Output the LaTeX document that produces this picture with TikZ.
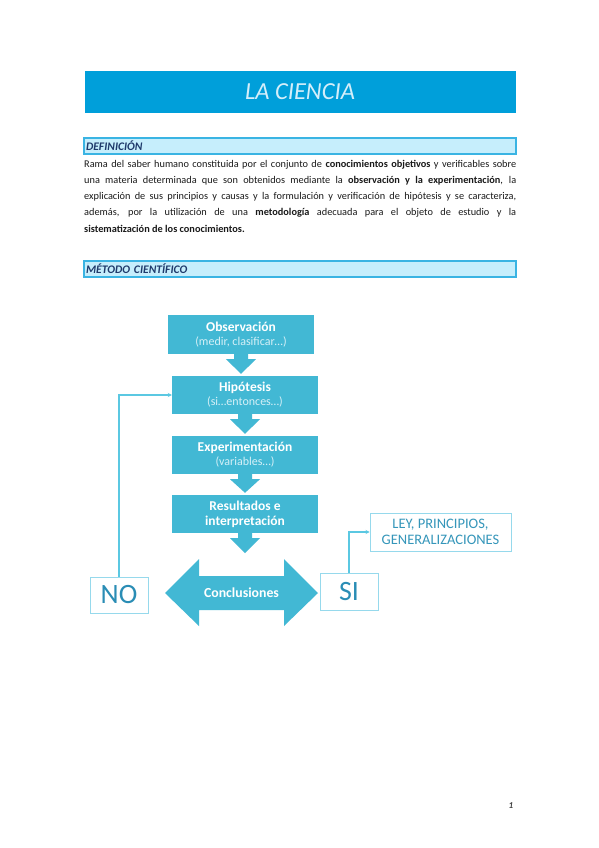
\documentclass[tikz,border=0pt]{standalone}
\usepackage{fontspec}
\setmainfont{Carlito}
\usetikzlibrary{calc,arrows.meta}
\definecolor{titlefill}{HTML}{009FDA}
\definecolor{titletext}{HTML}{D4EEFA}
\definecolor{headfill}{HTML}{C6EEFC}
\definecolor{headdraw}{HTML}{3AB4E3}
\definecolor{headtext}{HTML}{1F3A6B}
\definecolor{flowfill}{HTML}{42B8D4}
\definecolor{subtext}{HTML}{D6F0F7}
\definecolor{connline}{HTML}{5BC8E2}
\definecolor{outbox}{HTML}{96D9EC}
\definecolor{outtext}{HTML}{2A8DB5}
\definecolor{leytext}{HTML}{3596BA}
\definecolor{bodytext}{HTML}{1A1A1A}
\newcommand\blockarrow[2]{%
  \coordinate (ba-tip) at (#1.south |- #2.north);
  \fill[flowfill] ($(#1.south)+(-7,-0.5)$) -- ($(#1.south)+(-7,5)$) -- ($(#1.south)+(-15,5)$)
    -- ($(ba-tip)+(0,-2)$) -- ($(#1.south)+(15,5)$) -- ($(#1.south)+(7,5)$)
    -- ($(#1.south)+(7,-0.5)$) -- cycle;}
\begin{document}
\begin{tikzpicture}[x=1pt,y=-1pt,
  titlebar/.style={fill=titlefill, minimum width=431, minimum height=42, inner sep=0,
    text=titletext, font=\itshape\fontsize{24.5}{26}\selectfont},
  headbar/.style={fill=headfill, draw=headdraw, line width=1.1pt, minimum height=16,
    text width=428, align=left, inner xsep=2, inner ysep=0, text=headtext,
    font=\bfseries\itshape\fontsize{11.6}{12}\selectfont},
  para/.style={inner sep=0, anchor=base west, text=bodytext, font=\fontsize{10.3}{12}\selectfont},
  flowbox/.style={fill=flowfill, minimum width=146, minimum height=38, inner sep=0,
    text=white, align=center, font=\bfseries\fontsize{13.5}{15}\selectfont},
  outnode/.style={draw=outbox, line width=0.9pt, fill=white, inner sep=0, text=outtext,
    font=\fontsize{28}{30}\selectfont},
  conn/.style={draw=connline, line width=1.3pt, -{Stealth[length=4pt,width=4pt]}}
]
\fill[white] (0,0) rectangle (599,848);
\useasboundingbox (0,0) rectangle (599,848);

% title
\node[titlebar] (title) at (300,92) {LA CIENCIA};

% definition
\node[headbar] (defbar) at (300,146) {DEFINICIÓN};
\node[para] (l1) at (84,167) {\makebox[432pt][s]{Rama del saber humano constituida por el conjunto de \textbf{conocimientos objetivos} y verificables sobre}};
\node[para] (l2) at (84,183.25) {\makebox[432pt][s]{una materia determinada que son obtenidos mediante la \textbf{observación y la experimentación}, la}};
\node[para] (l3) at (84,199.5) {\makebox[432pt][s]{explicación de sus principios y causas y la formulación y verificación de hipótesis y se caracteriza,}};
\node[para] (l4) at (84,215.75) {\makebox[432pt][s]{además, por la utilización de una \textbf{metodología} adecuada para el objeto de estudio y la}};
\node[para] (l5) at (84,232) {\textbf{sistematización de los conocimientos.}};

% method
\node[headbar] (metbar) at (300,269) {MÉTODO CIENTÍFICO};

% flow boxes
\node[flowbox, minimum height=39] (obs) at (241,334.5) {Observación\\[-1pt]{\mdseries\fontsize{12}{13}\selectfont\color{subtext}(medir, clasificar…)}};
\node[flowbox] (hip) at (245,395) {Hipótesis\\[-1pt]{\mdseries\fontsize{12}{13}\selectfont\color{subtext}(si…entonces…)}};
\node[flowbox] (exp) at (245,455) {Experimentación\\[-1pt]{\mdseries\fontsize{12}{13}\selectfont\color{subtext}(variables…)}};
\node[flowbox] (res) at (245,514) {Resultados e\\interpretación};

\coordinate (conctop) at (245,555);
\blockarrow{obs}{hip}
\blockarrow{hip}{exp}
\blockarrow{exp}{res}
\blockarrow{res}{conctop}

% conclusions double arrow
\fill[flowfill] (165,593) -- (199,559) -- (199,576) -- (284,576) -- (284,559) -- (318,593)
  -- (284,626) -- (284,610) -- (199,610) -- (199,626) -- cycle;
\node[inner sep=0, text=white, font=\bfseries\fontsize{13.8}{15}\selectfont] (concl) at (241.5,593) {Conclusiones};

% outcomes
\node[outnode, minimum width=58, minimum height=36] (no) at (119,595) {NO};
\node[outnode, minimum width=58, minimum height=37] (si) at (349,591.5) {SI};
\node[outnode, minimum width=141, minimum height=38, align=center, text=leytext,
  font=\fontsize{14.5}{16}\selectfont] (ley) at (440.5,532) {LEY, PRINCIPIOS,\\GENERALIZACIONES};

\draw[conn] (no.north) |- (hip.west);
\draw[conn] (si.north) |- (ley.west);

% page number
\node[inner sep=0, text=black!75, font=\bfseries\itshape\fontsize{9}{10}\selectfont] (pg) at (511,806) {1};
\end{tikzpicture}
\end{document}
